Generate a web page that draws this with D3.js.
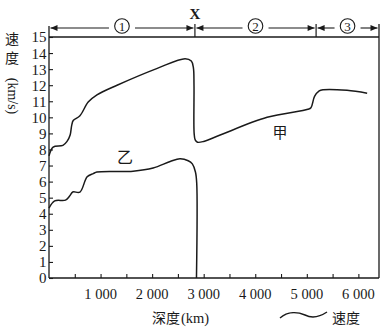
<!DOCTYPE html>
<html><head><meta charset="utf-8">
<script src="https://cdn.jsdelivr.net/npm/d3@7"></script>
<style>body{margin:0;background:#fff}svg{display:block}</style>
</head><body>
<svg id="c" width="387" height="333"></svg>
<script>
// ---- data ----
const yTicks = [0,1,2,3,4,5,6,7,8,9,10,11,12,13,14,15];
const xTicks = [500,1000,1500,2000,2500,3000,3500,4000,4500,5000,5500,6000];
const xTickLabels = ["1 000","2 000","3 000","4 000","5 000","6 000"];
const xLabelValues = [1000,2000,3000,4000,5000,6000];
const seriesNames = ["甲","乙"];
// 甲 (depth km, speed km/s)
const depthJia = [0,80,270,350,410,440,470,600,760,930,1320,2100,2640,2760,2800,2812,2815,2835,2880,3000,3320,4230,5020,5080,5150,5240,5320,5780,6170];
const speedJia = [7.6,8.15,8.25,8.5,8.9,9.5,9.8,10.1,10.95,11.4,12.0,13.05,13.65,13.5,13.1,12.0,9.0,8.6,8.45,8.5,8.9,10.0,10.5,10.6,11.3,11.65,11.72,11.68,11.5];
// 乙
const depthYi = [0,110,320,400,460,600,740,860,930,1630,2020,2350,2540,2700,2780,2840,2865,2860];
const speedYi = [4.35,4.8,4.85,5.1,5.35,5.35,6.3,6.5,6.6,6.65,6.85,7.25,7.42,7.3,7.1,6.6,5.9,0];
// layers
const layerBounds = [0,2830,5180,6400];
const layerNames = ["1","2","3"];
const boundaryName = "X";

const svg = d3.select("#c");
const L=49,R=379,T=37,B=278;
const x = d3.scaleLinear().domain([0,6400]).range([L,R]);
const y = d3.scaleLinear().domain([0,15]).range([B,T]);
const ink = "#1a1a1a";
const serif = "'Liberation Serif','Times New Roman',serif";
const cjk = "'Noto Sans CJK SC',sans-serif";

// axes lines
svg.append("line").attr("x1",L).attr("x2",L).attr("y1",26).attr("y2",B).attr("stroke",ink).attr("stroke-width",1.3);
svg.append("line").attr("x1",R).attr("x2",R).attr("y1",24).attr("y2",B).attr("stroke",ink).attr("stroke-width",1.3);
svg.append("line").attr("x1",L).attr("x2",R).attr("y1",T).attr("y2",T).attr("stroke",ink).attr("stroke-width",1.3);
svg.append("line").attr("x1",L).attr("x2",R).attr("y1",B).attr("y2",B).attr("stroke",ink).attr("stroke-width",1.3);

// y axis
const ya = svg.append("g").attr("transform",`translate(${L},0)`)
  .call(d3.axisLeft(y).tickValues(yTicks).tickSize(-4).tickPadding(2.5).tickFormat(d3.format("d")));
ya.select(".domain").remove();
ya.attr("font-family",serif);
ya.selectAll("line").attr("stroke",ink).attr("stroke-width",1.1);
ya.selectAll("text").attr("font-family",serif).attr("font-size",15).attr("fill",ink).attr("dy","0.33em");

// x axis
const xa = svg.append("g").attr("transform",`translate(0,${B})`)
  .call(d3.axisBottom(x).tickValues(xTicks).tickSize(-4).tickFormat(()=>""));
xa.select(".domain").remove();
xa.selectAll("line").attr("stroke",ink).attr("stroke-width",1.1);
svg.append("g").selectAll("text").data(xLabelValues).join("text")
  .attr("x",d=>x(d)).attr("y",299).attr("text-anchor","middle")
  .attr("font-family",serif).attr("font-size",14.5).attr("fill",ink)
  .text((d,i)=>xTickLabels[i]);

// axis titles
const yt = svg.append("g").attr("font-family",cjk).attr("font-size",14).attr("fill",ink);
yt.append("text").attr("x",12).attr("y",44).attr("text-anchor","middle").text("速");
yt.append("text").attr("x",12).attr("y",63).attr("text-anchor","middle").text("度");
yt.append("text").attr("transform","translate(8,96) rotate(90)").attr("text-anchor","middle")
  .attr("font-family",serif).attr("font-size",14).text("(km/s)");
svg.append("text").attr("x",152).attr("y",323).attr("font-family",cjk).attr("font-size",14).attr("fill",ink).text("深度");
svg.append("text").attr("x",181).attr("y",323).attr("font-family",serif).attr("font-size",14.5).attr("fill",ink).text("(km)");

// curves
const line = d3.line().x(d=>x(d[0])).y(d=>y(d[1])).curve(d3.curveCatmullRom.alpha(0.5));
svg.append("path").attr("d",line(depthJia.map((d,i)=>[d,speedJia[i]])))
  .attr("fill","none").attr("stroke",ink).attr("stroke-width",1.5);
svg.append("path").attr("d",line(depthYi.map((d,i)=>[d,speedYi[i]])))
  .attr("fill","none").attr("stroke",ink).attr("stroke-width",1.5);

// series labels
svg.append("text").attr("x",280).attr("y",138).attr("text-anchor","middle").attr("font-family",cjk).attr("font-size",15).attr("fill",ink).text(seriesNames[0]);
svg.append("text").attr("x",125).attr("y",163).attr("text-anchor","middle").attr("font-family",cjk).attr("font-size",16).attr("fill",ink).text(seriesNames[1]);

// layer brackets
const ay = 28;
for (let i=1;i<layerBounds.length-1;i++){
  svg.append("line").attr("x1",x(layerBounds[i])).attr("x2",x(layerBounds[i])).attr("y1",24).attr("y2",T).attr("stroke",ink).attr("stroke-width",1.2);
}
function arrowHead(px,dir){
  svg.append("path").attr("d",`M${px},${ay} L${px-dir*7},${ay-3} L${px-dir*7},${ay+3} Z`).attr("fill",ink);
}
layerNames.forEach((nm,i)=>{
  const a = x(layerBounds[i])+1.5, b = x(layerBounds[i+1])-1.5, c=(a+b)/2;
  const gap = 13;
  svg.append("line").attr("x1",a).attr("x2",c-gap).attr("y1",ay).attr("y2",ay).attr("stroke",ink).attr("stroke-width",1.1);
  svg.append("line").attr("x1",c+gap).attr("x2",b).attr("y1",ay).attr("y2",ay).attr("stroke",ink).attr("stroke-width",1.1);
  arrowHead(a,-1); arrowHead(b,1);
  svg.append("circle").attr("cx",c).attr("cy",ay-2).attr("r",7.3).attr("fill","#fff").attr("stroke",ink).attr("stroke-width",1.1);
  svg.append("text").attr("x",c).attr("y",ay+2.8).attr("text-anchor","middle").attr("font-family",serif).attr("font-size",13).attr("fill",ink).text(nm);
});
svg.append("text").attr("x",x(layerBounds[1])).attr("y",19).attr("text-anchor","middle").attr("font-family",serif).attr("font-weight","bold").attr("font-size",15).attr("fill",ink).text(boundaryName);

// legend
svg.append("path").attr("d","M280,318 C288,311 298,312 305,315 C311,318 318,318 327,312")
  .attr("fill","none").attr("stroke",ink).attr("stroke-width",1.4);
svg.append("text").attr("x",332).attr("y",323).attr("font-family",cjk).attr("font-size",14).attr("fill",ink).text("速度");
</script>
</body></html>
